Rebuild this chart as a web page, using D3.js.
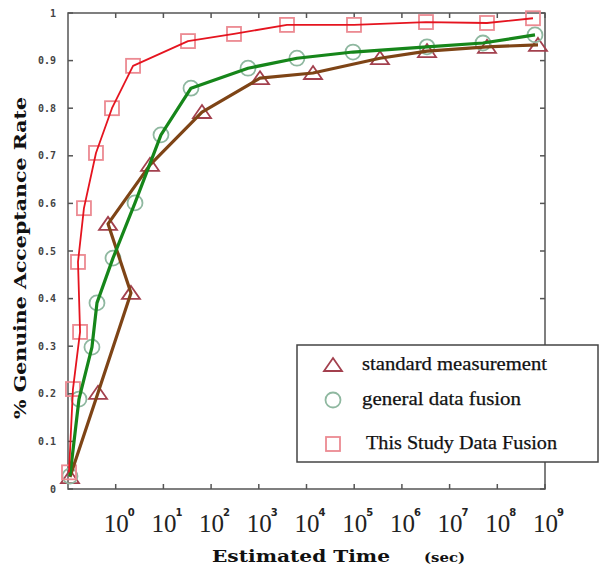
<!DOCTYPE html>
<head>
  <meta charset="utf-8">
  <script src="https://d3js.org/d3.v7.min.js"></script>
  <style type="text/css">
    body { margin:0; background:#fff; }
    .frame { fill: none; stroke: #555; stroke-width: 1.5; }
    .tick { stroke: #555; stroke-width: 1.5; }
    .ylab { font-family: "DejaVu Sans Mono", monospace; font-size: 10px; font-weight: bold; fill: #444; }
    .xlab { font-family: "Liberation Serif", serif; font-size: 25px; fill: #222; }
    .xsup { font-family: "DejaVu Sans", sans-serif; font-size: 10px; font-weight: bold; }
    .title { font-family: "DejaVu Serif", serif; font-weight: bold; fill: #111; }
    .legtext { font-family: "Liberation Serif", serif; font-size: 19px; fill: #111; stroke: #111; stroke-width: 0.25; }
  </style>
</head>

<body>
  <script>

  var width = 600, height = 569;

  // axis ticks
  var yTicks = [0, 0.1, 0.2, 0.3, 0.4, 0.5, 0.6, 0.7, 0.8, 0.9, 1];
  var xTickExps = [0, 1, 2, 3, 4, 5, 6, 7, 8, 9];

  // This Study Data Fusion (red, squares)
  var studyTime = [0.105, 0.127, 0.179, 0.162, 0.216, 0.386, 0.836, 2.31, 32.8, 302, 3900, 99000, 3.2e6, 6.08e7, 5.6e8];
  var studyRate = [0.035, 0.21, 0.33, 0.477, 0.59, 0.706, 0.80, 0.889, 0.941, 0.956, 0.975, 0.975, 0.981, 0.979, 0.989];

  // general data fusion (green, circles)
  var generalTime = [0.110, 0.170, 0.318, 0.405, 0.877, 2.54, 8.9, 37.9, 594, 6300, 94400, 3.36e6, 5.0e7, 6.17e8];
  var generalRate = [0.027, 0.189, 0.298, 0.391, 0.485, 0.601, 0.744, 0.842, 0.884, 0.905, 0.918, 0.929, 0.937, 0.954];

  // standard measurement (brown, triangles)
  var standardTime = [0.110, 0.426, 2.09, 0.690, 5.24, 64.4, 1060, 13700, 3.47e5, 3.36e6, 6.08e7, 7.13e8];
  var standardRate = [0.025, 0.202, 0.412, 0.557, 0.681, 0.792, 0.863, 0.874, 0.905, 0.920, 0.929, 0.933];

  var legendLabels = ["standard measurement", "general data fusion", "This Study Data Fusion"];

  function zip(t, r) { return t.map(function(d, i) { return {t: d, r: r[i]}; }); }

  var series = [
    {name: "standard", data: zip(standardTime, standardRate), line: "#7e4416", lw: 3.2, mark: "#a3404e", shape: "tri"},
    {name: "general", data: zip(generalTime, generalRate), line: "#16861a", lw: 3.2, mark: "#8fb8a0", shape: "circ"},
    {name: "study", data: zip(studyTime, studyRate), line: "#e5141f", lw: 1.8, mark: "#ec8a92", shape: "sq"}
  ];

  var xScale = d3.scaleLog().domain([0.1, 1e9]).range([68, 545]);
  var yScale = d3.scaleLinear().domain([0, 1]).range([489, 13]);

  var svg = d3.select("body").append("svg")
    .attr("width", width)
    .attr("height", height);

  // frame
  svg.append("rect").attr("class", "frame")
    .attr("x", xScale(0.1)).attr("y", yScale(1))
    .attr("width", xScale(1e9) - xScale(0.1))
    .attr("height", yScale(0) - yScale(1));

  // x ticks, inward top and bottom
  var xt = svg.append("g");
  xTickExps.forEach(function(e) {
    var x = xScale(Math.pow(10, e));
    xt.append("line").attr("class", "tick").attr("x1", x).attr("x2", x).attr("y1", yScale(0)).attr("y2", yScale(0) - 5);
    xt.append("line").attr("class", "tick").attr("x1", x).attr("x2", x).attr("y1", yScale(1)).attr("y2", yScale(1) + 5);
  });

  // y ticks, inward left and right
  yTicks.forEach(function(v) {
    var y = yScale(v);
    xt.append("line").attr("class", "tick").attr("x1", xScale(0.1)).attr("x2", xScale(0.1) + 5).attr("y1", y).attr("y2", y);
    xt.append("line").attr("class", "tick").attr("x1", xScale(1e9)).attr("x2", xScale(1e9) - 5).attr("y1", y).attr("y2", y);
  });

  // y tick labels
  svg.selectAll(".ylab")
    .data(yTicks)
    .enter().append("text")
    .attr("class", "ylab")
    .attr("x", 56)
    .attr("y", function(d) { return yScale(d) + 3.5; })
    .attr("text-anchor", "end")
    .text(function(d) { return d === 0 ? "0" : d === 1 ? "1" : d3.format(".1f")(d); });

  // x tick labels 10^n, one text each with a raised tspan
  var xl = svg.selectAll(".xlab")
    .data(xTickExps)
    .enter().append("text")
    .attr("class", "xlab")
    .attr("x", function(d) { return xScale(Math.pow(10, d)) - 12; })
    .attr("y", 532);
  xl.append("tspan").text("10");
  xl.append("tspan")
    .attr("class", "xsup")
    .attr("dx", -1)
    .attr("dy", -16)
    .text(function(d) { return d; });

  // markers
  var line = d3.line()
    .x(function(d) { return xScale(d.t); })
    .y(function(d) { return yScale(d.r); });

  function drawMarker(g, shape, color, x, y) {
    if (shape === "tri") {
      g.append("path")
        .attr("d", "M" + x + "," + (y - 7) + "L" + (x + 9) + "," + (y + 6) + "L" + (x - 9) + "," + (y + 6) + "Z")
        .attr("fill", "none").attr("stroke", color).attr("stroke-width", 1.8);
    } else if (shape === "circ") {
      g.append("circle").attr("cx", x).attr("cy", y).attr("r", 7.5)
        .attr("fill", "none").attr("stroke", color).attr("stroke-width", 1.8);
    } else {
      g.append("rect").attr("x", x - 7).attr("y", y - 7).attr("width", 14).attr("height", 14)
        .attr("fill", "none").attr("stroke", color).attr("stroke-width", 1.8);
    }
  }

  series.forEach(function(s) {
    var g = svg.append("g");
    s.data.forEach(function(d) {
      drawMarker(g, s.shape, s.mark, xScale(d.t), yScale(d.r));
    });
  });

  series.forEach(function(s) {
    svg.append("path")
      .datum(s.data)
      .attr("fill", "none")
      .attr("stroke", s.line)
      .attr("stroke-width", s.lw)
      .attr("stroke-linejoin", "round")
      .attr("d", line);
  });

  // axis titles
  svg.append("text")
    .attr("class", "title")
    .attr("transform", "translate(26,258) rotate(-90)")
    .attr("text-anchor", "middle")
    .attr("font-size", "17px")
    .attr("textLength", 322)
    .attr("lengthAdjust", "spacingAndGlyphs")
    .text("% Genuine Acceptance Rate");

  svg.append("text")
    .attr("class", "title")
    .attr("x", 212)
    .attr("y", 562)
    .attr("font-size", "17px")
    .attr("textLength", 178)
    .attr("lengthAdjust", "spacingAndGlyphs")
    .text("Estimated Time");
  svg.append("text")
    .attr("class", "title")
    .attr("x", 424)
    .attr("y", 562)
    .attr("font-size", "13px")
    .attr("textLength", 41)
    .attr("lengthAdjust", "spacingAndGlyphs")
    .text("(sec)");

  // legend
  var leg = svg.append("g");
  leg.append("rect")
    .attr("x", 297).attr("y", 345).attr("width", 301).attr("height", 117)
    .attr("fill", "#fff").attr("stroke", "#444").attr("stroke-width", 1.5);
  var legY = [365, 400, 444];
  var legW = [185, 159, 191];
  series.forEach(function(s, i) {
    drawMarker(leg, s.shape, s.mark, 333, legY[i]);
    leg.append("text")
      .attr("class", "legtext")
      .attr("x", i === 2 ? 366 : 362)
      .attr("y", legY[i] + 5)
      .attr("textLength", legW[i])
      .attr("lengthAdjust", "spacingAndGlyphs")
      .text(legendLabels[i]);
  });

  </script>
</body>
